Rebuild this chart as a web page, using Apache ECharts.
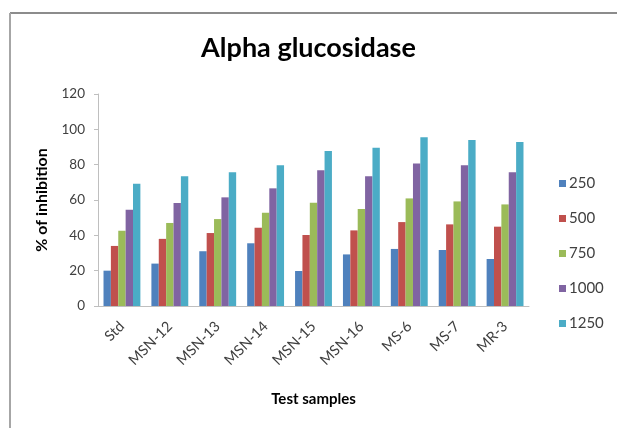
<!DOCTYPE html>
<html>
<head>
<meta charset="utf-8">
<script src="https://cdn.jsdelivr.net/npm/echarts@6/dist/echarts.min.js"></script>
<style>html,body{margin:0;padding:0;background:#fff;}#c{width:617px;height:428px;}</style>
</head>
<body>
<div id="c"></div>
<script>
var categories = ['Std','MSN-12','MSN-13','MSN-14','MSN-15','MSN-16','MS-6','MS-7','MR-3'];
var seriesNames = ['250','500','750','1000','1250'];
var s250  = [20, 24, 31, 35.5, 19.8, 29.2, 32.3, 31.7, 26.6];
var s500  = [34, 38, 41.3, 44.3, 40.2, 42.8, 47.5, 46.2, 44.9];
var s750  = [42.6, 47, 49.2, 52.8, 58.5, 54.9, 60.9, 59.2, 57.5];
var s1000 = [54.5, 58.3, 61.5, 66.6, 76.8, 73.4, 80.7, 79.6, 75.7];
var s1250 = [69.2, 73.4, 75.7, 79.6, 87.7, 89.6, 95.5, 94, 92.8];
var colors = ['#4F81BD','#C0504D','#9BBB59','#8064A2','#4BACC6'];
var allData = [s250, s500, s750, s1000, s1250];

var chart = echarts.init(document.getElementById('c'), null, {renderer:'canvas'});
var font = 'Lato, "Open Sans", sans-serif';
chart.setOption({
  animation:false,
  backgroundColor:'#fff',
  title:{text:'Alpha glucosidase', left:'center', top:30,
    textStyle:{fontFamily:font, fontSize:27, fontWeight:'bold', color:'#000'}},
  grid:{left:98, right:88, top:94, bottom:122},
  legend:{orient:'vertical', left:554, top:171, itemGap:20, itemWidth:7, itemHeight:7,
    icon:'rect', data:seriesNames,
    textStyle:{fontFamily:font, fontSize:15, color:'#404040', padding:[0,0,0,-2]}},
  xAxis:{type:'category', data:categories,
    name:'Test samples', nameLocation:'middle', nameGap:86,
    nameTextStyle:{fontFamily:font, fontSize:15, fontWeight:'bold', color:'#000'},
    axisLine:{lineStyle:{color:'#BFBFBF'}},
    axisTick:{show:false},
    axisLabel:{rotate:45, fontFamily:font, fontSize:14.5, color:'#404040', margin:18}},
  yAxis:{type:'value', min:0, max:120, interval:20,
    name:'% of inhibition', nameLocation:'middle', nameGap:48, nameRotate:90,
    nameTextStyle:{fontFamily:font, fontSize:16, fontWeight:'bold', color:'#000'},
    axisLine:{show:true, lineStyle:{color:'#BFBFBF'}},
    axisTick:{show:true, length:4, lineStyle:{color:'#BFBFBF'}},
    splitLine:{show:false},
    axisLabel:{fontFamily:font, fontSize:13.5, color:'#404040', margin:13}},
  series: seriesNames.map(function(n,i){
    return {name:n, type:'bar', data:allData[i], barGap:'0%', barCategoryGap:'23%',
      itemStyle:{color:colors[i]}};
  }),
  graphic:[
    {type:'line', shape:{x1:10, y1:13, x2:617, y2:13}, style:{stroke:'#8C8C8C', lineWidth:2}},
    {type:'line', shape:{x1:10, y1:13, x2:10, y2:428}, style:{stroke:'#A6A6A6', lineWidth:2}}
  ]
});
</script>
</body>
</html>
